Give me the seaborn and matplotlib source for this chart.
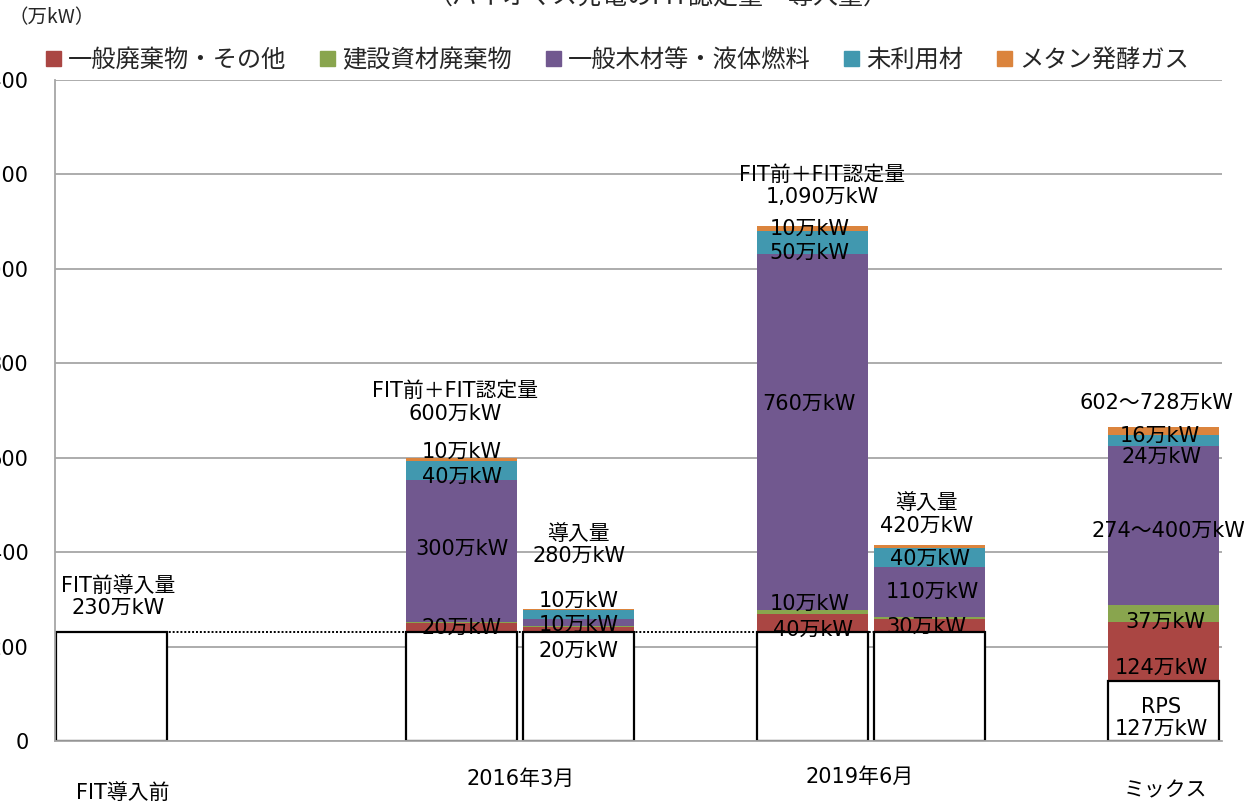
import matplotlib
matplotlib.use("Agg")
import matplotlib.pyplot as plt
import matplotlib.patches as mpatches
import numpy as np
import seaborn as sns

sns.set_theme(style="white")
plt.rcParams['font.family'] = ['DejaVu Sans', 'Noto Sans CJK JP']

# bar slots (0 = FIT導入前, 3/4 = 2016年3月, 6/7 = 2019年6月, 9 = ミックス)
positions = [0, 3, 4, 6, 7, 9]
base = [230, 230, 230, 230, 230, 127]
general_waste = [0, 20, 12, 38, 28, 124]
construction = [0, 3, 1, 9, 5, 37]
wood_liquid = [0, 300, 16, 755, 105, 337]
unused_wood = [0, 40, 19, 49, 40, 24]
methane = [0, 7, 2, 9, 7, 16]

series_names = ['一般廃棄物・その他', '建設資材廃棄物', '一般木材等・液体燃料', '未利用材', 'メタン発酵ガス']
series_colors = ['#AA4643', '#89A54E', '#71588F', '#4198AF', '#DB843D']
group_labels = ['FIT導入前', '2016年3月', '2019年6月', 'ミックス']

fig = plt.figure(figsize=(12.44, 8.02), dpi=100)
ax = fig.add_axes([55 / 1244, 61 / 802, 1167 / 1244, 661 / 802])

# stacked bars: draw cumulative totals back to front
layers = [general_waste, construction, wood_liquid, unused_wood, methane]
cum = np.array(base, dtype=float)
tops = []
for layer in layers:
    cum = cum + np.array(layer)
    tops.append(cum.copy())

for top, col in zip(reversed(tops), reversed(series_colors)):
    sns.barplot(x=positions, y=top, native_scale=True, width=0.95, color=col,
                saturation=1, errorbar=None, linewidth=0, ax=ax)
sns.barplot(x=positions, y=base, native_scale=True, width=0.95, color='white',
            saturation=1, errorbar=None, edgecolor='black', linewidth=1.6, ax=ax)

# FIT前導入量 reference line
ax.hlines(base[0], -0.475, 7.475, colors='black', linestyles=(0, (1, 1)), lw=1.4, zorder=5)

ax.set_xlim(-0.48, 9.5)
ax.set_ylim(0, 1400)
ax.set_yticks(range(0, 1401, 200))
ax.set_xticks([])
ax.set_xlabel('')
ax.set_ylabel('')
ax.set_axisbelow(True)
ax.yaxis.grid(True, color='#A6A6A6', lw=1.3)
ax.xaxis.grid(False)
ax.tick_params(axis='y', length=0, pad=19, labelsize=15, labelcolor='black')
for s in ['top', 'right']:
    ax.spines[s].set_visible(False)
for s in ['left', 'bottom']:
    ax.spines[s].set_color('#A6A6A6')
    ax.spines[s].set_linewidth(1.3)

# value annotations
fs = 15
notes = [
    (0.06, 305, 'FIT前導入量\n230万kW'),
    (2.94, 717, 'FIT前＋FIT認定量\n600万kW'),
    (3.0, 612, '10万kW'),
    (3.0, 559, '40万kW'),
    (3.0, 407, '300万kW'),
    (3.0, 239, '20万kW'),
    (4.0, 415, '導入量\n280万kW'),
    (4.0, 297, '10万kW'),
    (4.0, 246, '10万kW'),
    (4.0, 191, '20万kW'),
    (6.08, 1176, 'FIT前＋FIT認定量\n1,090万kW'),
    (5.97, 1085, '10万kW'),
    (5.97, 1034, '50万kW'),
    (5.97, 714, '760万kW'),
    (5.97, 290, '10万kW'),
    (6.0, 235, '40万kW'),
    (6.97, 480, '導入量\n420万kW'),
    (7.0, 386, '40万kW'),
    (7.02, 316, '110万kW'),
    (6.97, 242, '30万kW'),
    (8.94, 716, '602～728万kW'),
    (8.97, 646, '16万kW'),
    (8.98, 602, '24万kW'),
    (9.04, 445, '274～400万kW'),
    (9.02, 252, '37万kW'),
    (8.98, 155, '124万kW'),
    (8.98, 49, 'RPS\n127万kW'),
]
for x, y, t in notes:
    ax.text(x, y, t, ha='center', va='center', fontsize=fs, color='black',
            linespacing=1.15, zorder=6, clip_on=False)

# group labels under the axis
for x, y, t in zip([0.1, 3.5, 6.4, 9.02], [-110, -81, -77, -104], group_labels):
    ax.text(x, y, t, ha='center', va='center', fontsize=fs, color='black', clip_on=False)

# legend
handles = [mpatches.Patch(color=c, label=n) for n, c in zip(series_names, series_colors)]
fig.legend(handles=handles, loc='center left', bbox_to_anchor=(46 / 1244, 1 - 60 / 802),
           ncol=5, frameon=False, handlelength=0.6, handleheight=0.6,
           handletextpad=0.3, columnspacing=1.4, borderaxespad=0, borderpad=0,
           prop={'family': 'Noto Sans CJK JP', 'size': 17.5})

fig.text(8 / 1244, 1 - 18 / 802, '（万kW）', ha='left', va='center', fontsize=14,
         family=['Noto Sans CJK JP'])
fig.text(658 / 1244, 1 - 10 / 802, '（バイオマス発電のFIT認定量・導入量）', ha='center',
         va='bottom', fontsize=18, family=['Noto Sans CJK JP'])

fig.savefig('out.png', dpi=100)
